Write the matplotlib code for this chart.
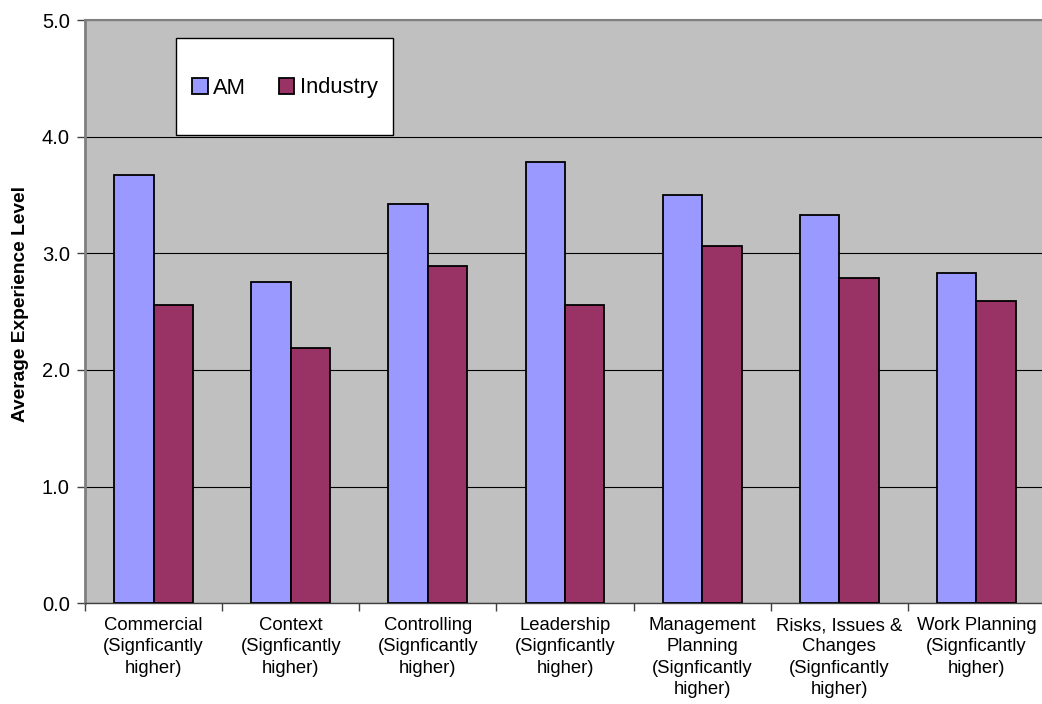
import matplotlib.pyplot as plt
import numpy as np
from matplotlib.patches import Rectangle

plt.rcParams['font.family'] = ['Liberation Sans', 'DejaVu Sans']

categorias = ['Commercial\n(Signficantly\nhigher)',
              'Context\n(Signficantly\nhigher)',
              'Controlling\n(Signficantly\nhigher)',
              'Leadership\n(Signficantly\nhigher)',
              'Management\nPlanning\n(Signficantly\nhigher)',
              'Risks, Issues &\nChanges\n(Signficantly\nhigher)',
              'Work Planning\n(Signficantly\nhigher)']
am = [3.67, 2.75, 3.42, 3.78, 3.50, 3.33, 2.83]
industria = [2.56, 2.19, 2.89, 2.56, 3.06, 2.79, 2.59]

W, H = 1042, 704
fig = plt.figure(figsize=(W / 100, H / 100), dpi=100)
ax = fig.add_axes([85 / W, 1 - 603.3 / H, (1045 - 85) / W, (603.3 - 20) / H])
ax.set_facecolor('#C0C0C0')

x = np.arange(len(categorias))
ancho = 0.287
ax.bar(x - ancho / 2, am, ancho, color='#9999FF', edgecolor='black', linewidth=1.3, zorder=3, label='AM')
ax.bar(x + ancho / 2, industria, ancho, color='#993366', edgecolor='black', linewidth=1.3, zorder=3, label='Industry')

ax.set_xlim(-0.5, len(categorias) - 0.5)
ax.set_ylim(0, 5)
ax.set_yticks(np.arange(0, 5.01, 1.0))
ax.set_yticklabels(['%.1f' % v for v in np.arange(0, 5.01, 1.0)], fontsize=14.5)
ax.yaxis.grid(True, color='black', linewidth=0.8, zorder=1)
ax.set_axisbelow(True)

ax.set_xticks(x)
ax.set_xticklabels(categorias, fontsize=13.3, linespacing=1.32, va='top')
ax.set_xticks(np.arange(-0.5, len(categorias)), minor=True)
ax.tick_params(axis='x', which='major', length=0, pad=10)
ax.tick_params(axis='x', which='minor', length=6, width=1, color='#404040')
ax.tick_params(axis='y', length=6, width=1, color='#404040', pad=5)

for s in ['top', 'right']:
    ax.spines[s].set_color('#808080')
    ax.spines[s].set_linewidth(1.5)
ax.spines['left'].set_color('#808080')
ax.spines['left'].set_linewidth(2)
ax.spines['bottom'].set_color('#404040')
ax.spines['bottom'].set_linewidth(1)

ax.set_ylabel('Average Experience Level', fontsize=13.8, fontweight='bold')
ax.yaxis.set_label_coords(-56 / (1045 - 85), (603.3 - 304.5) / (603.3 - 20))

# caja de la leyenda
fig.patches.append(Rectangle((176 / W, 1 - 134.7 / H), (392.7 - 176) / W, (134.7 - 37.7) / H,
                             transform=fig.transFigure, facecolor='white', edgecolor='black',
                             linewidth=1, zorder=4))
handles, labels = ax.get_legend_handles_labels()
leg = fig.legend(handles, labels, loc='center', bbox_to_anchor=(285 / W, 1 - 88 / H),
                 ncol=2, frameon=False, fontsize=15.8, handlelength=0.7, handleheight=0.7,
                 handletextpad=0.25, columnspacing=1.5)
leg.set_zorder(6)

fig.savefig('out.png', dpi=100)
